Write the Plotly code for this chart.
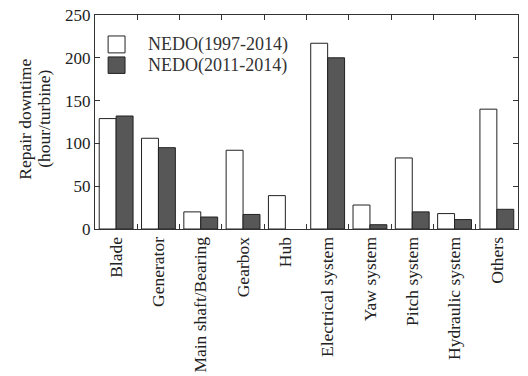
import plotly.graph_objects as go

categories = ["Blade", "Generator", "Main shaft/Bearing", "Gearbox", "Hub",
              "Electrical system", "Yaw system", "Pitch system",
              "Hydraulic system", "Others"]
series_names = ["NEDO(1997-2014)", "NEDO(2011-2014)"]
downtime_1997_2014 = [129, 106, 20, 92, 39, 217, 28, 83, 18, 140]
downtime_2011_2014 = [132, 95, 14, 17, 0, 200, 5, 20, 11, 23]
y_ticks = [0, 50, 100, 150, 200, 250]
y_title_lines = ["Repair downtime", "(hour/turbine)"]

FONT = "Liberation Serif"
FS = 17.5
fills = ["#ffffff", "#575757"]

fig = go.Figure()
for name, vals, fill in zip(series_names, [downtime_1997_2014, downtime_2011_2014], fills):
    # zero-valued bars get no outline so they stay invisible
    widths = [1 if v > 0 else 0 for v in vals]
    fig.add_trace(go.Bar(
        x=categories, y=vals, name=name,
        marker=dict(color=fill, line=dict(color="#222222", width=widths)),
        showlegend=False,
    ))

# Legend drawn as framed swatches with text labels
swatch_rows = [(0.902, 0.823), (0.804, 0.727)]
for (y1, y0), name, fill in zip(swatch_rows, series_names, fills):
    fig.add_shape(type="rect", xref="paper", yref="paper",
                  x0=0.031, x1=0.071, y0=y0, y1=y1,
                  fillcolor=fill, line=dict(color="#222222", width=1))
    fig.add_annotation(xref="paper", yref="paper", x=0.120, y=(y0 + y1) / 2,
                       text=name, showarrow=False, xanchor="left", yanchor="middle",
                       font=dict(family=FONT, size=18, color="#333333"))

# Two-line y-axis title, each line placed separately for tighter spacing
for line, xpos in zip(y_title_lines, [-0.166, -0.121]):
    fig.add_annotation(xref="paper", yref="paper", x=xpos, y=0.514,
                       text=line, textangle=-90, showarrow=False,
                       xanchor="center", yanchor="middle",
                       font=dict(family=FONT, size=FS, color="#222222"))

axis_common = dict(showline=True, linecolor="#333333", linewidth=1, mirror="ticks",
                   ticks="inside", ticklen=5, tickcolor="#333333", showgrid=False,
                   zeroline=False, automargin=False)

fig.update_layout(
    width=528, height=376,
    margin=dict(l=95, r=10, t=15, b=147),
    paper_bgcolor="white", plot_bgcolor="white",
    barmode="group", bargap=0.2, bargroupgap=0,
    font=dict(family=FONT, size=FS, color="#222222"),
    xaxis=dict(**axis_common, tickangle=-90, tickson="boundaries",
               tickfont=dict(family=FONT, size=FS)),
    yaxis=dict(**axis_common, range=[0, 250], tickvals=y_ticks,
               tickfont=dict(family=FONT, size=17)),
)

fig.write_html("out.html")
